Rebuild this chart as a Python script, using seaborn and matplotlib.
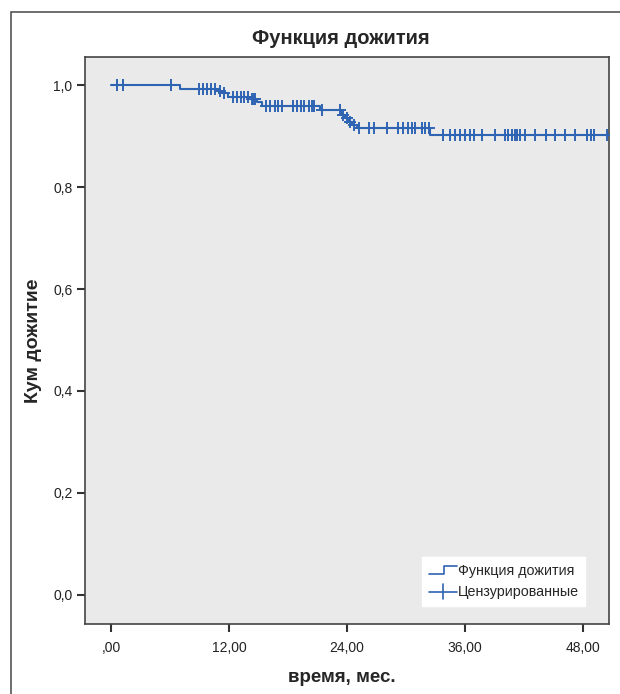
import numpy as np
import pandas as pd
import seaborn as sns
import matplotlib.pyplot as plt
from matplotlib.lines import Line2D
from matplotlib.legend_handler import HandlerBase
from matplotlib.patches import Rectangle

# данные кривой Каплана-Мейера
event_times = [7.0, 10.9, 11.25, 11.9, 14.1, 14.8, 15.4, 21.3,
               23.45, 23.8, 24.15, 24.5, 25.0, 32.45]
surv_values = [0.993, 0.988, 0.984, 0.977, 0.972, 0.966, 0.959, 0.951,
               0.941, 0.935, 0.928, 0.922, 0.915, 0.902]
censor_times = [0.58, 1.19, 6.13, 8.9, 9.4, 9.8, 10.2, 10.6, 11.1, 11.5,
                12.4, 12.8, 13.2, 13.5, 13.9, 14.3, 14.5, 14.6, 15.8, 16.2,
                16.7, 17.0, 17.4, 18.5, 18.9, 19.3, 19.6, 20.1, 20.4, 20.6,
                21.5, 23.3, 23.6, 24.0, 24.3, 24.7, 25.2, 26.2, 26.7, 28.05,
                29.2, 29.7, 30.2, 30.6, 30.9, 31.6, 31.95, 32.3, 33.8, 34.5,
                35.0, 35.5, 36.0, 36.5, 36.9, 37.7, 39.1, 40.1, 40.4, 40.8,
                41.1, 41.3, 41.6, 42.1, 43.1, 44.2, 45.2, 46.2, 47.2, 48.4,
                48.8, 49.1, 50.4]
last_time = 50.6

x_ticks = [0, 12, 24, 36, 48]
x_tick_labels = [",00", "12,00", "24,00", "36,00", "48,00"]
y_ticks = [0.0, 0.2, 0.4, 0.6, 0.8, 1.0]
y_tick_labels = ["0,0", "0,2", "0,4", "0,6", "0,8", "1,0"]

title = "Функция дожития"
x_label = "время, мес."
y_label = "Кум дожитие"
legend_labels = ["Функция дожития", "Цензурированные"]

blue = "#2f64b3"

# таблицы для seaborn
curve = pd.DataFrame({
    "time": [0.0] + event_times + [last_time],
    "surv": [1.0] + surv_values + [surv_values[-1]],
})
idx = np.searchsorted(event_times, censor_times, side="right")
censored = pd.DataFrame({
    "time": censor_times,
    "surv": np.r_[1.0, surv_values][idx],
})

sns.set_style("white")
plt.rcParams["font.family"] = ["Liberation Sans", "DejaVu Sans"]

fig = plt.figure(figsize=(6.2, 6.94), dpi=100)
ax = fig.add_axes([85 / 620, 1 - 624 / 694, 523.5 / 620, 567 / 694])
ax.set_facecolor("#eaeaea")

sns.lineplot(data=curve, x="time", y="surv", drawstyle="steps-post",
             estimator=None, color=blue, linewidth=1.5, ax=ax)
sns.scatterplot(data=censored, x="time", y="surv", marker="+", s=70,
                color=blue, linewidth=1.4, ax=ax, zorder=3)

ax.set_xlim(-2.65, 50.6)
ax.set_ylim(-0.057, 1.055)
ax.set_xticks(x_ticks)
ax.set_xticklabels(x_tick_labels)
ax.set_yticks(y_ticks)
ax.set_yticklabels(y_tick_labels)
ax.tick_params(direction="out", length=6, width=1.5, color="#333333",
               labelsize=10, labelcolor="#222222", pad=3,
               bottom=True, left=True)
ax.tick_params(axis="x", pad=6)
for s in ax.spines.values():
    s.set_color("#444444")
    s.set_linewidth(1.2)
ax.set_xlabel("")
ax.set_ylabel("")

fig.text(341 / 620, 1 - 39 / 694, title, ha="center", va="center",
         fontsize=14.5, fontweight="bold")
fig.text(342 / 620, 1 - 678 / 694, x_label, ha="center", va="center",
         fontsize=13.5, fontweight="bold")
fig.text(34 / 620, 1 - 341 / 694, y_label, ha="center", va="center",
         rotation=90, fontsize=14, fontweight="bold")

# внешняя рамка
fig.patches.append(Rectangle((11 / 620, -0.05), 1.1, 1 - 12 / 694 + 0.05,
                             transform=fig.transFigure, fill=False,
                             edgecolor="#555555", linewidth=1.2))


class StepHandler(HandlerBase):
    def create_artists(self, legend, orig_handle, xdescent, ydescent,
                       width, height, fontsize, trans):
        x0, x1 = -xdescent, -xdescent + width
        ym = height / 2 - ydescent
        xs = [x0, x0 + width * 0.55, x0 + width * 0.55, x1]
        ys = [ym - height * 0.3, ym - height * 0.3, ym + height * 0.3, ym + height * 0.3]
        ln = Line2D(xs, ys, color=blue, linewidth=1.2, transform=trans)
        return [ln]


class PlusHandler(HandlerBase):
    def create_artists(self, legend, orig_handle, xdescent, ydescent,
                       width, height, fontsize, trans):
        x0, x1 = -xdescent, -xdescent + width
        ym = height / 2 - ydescent
        xm = (x0 + x1) / 2
        h = Line2D([x0, x1], [ym, ym], color=blue, linewidth=1.2, transform=trans)
        v = Line2D([xm, xm], [ym - height * 0.6, ym + height * 0.6],
                   color=blue, linewidth=1.2, transform=trans)
        return [h, v]


h_curve = Line2D([], [], color=blue)
h_cens = Line2D([], [], color=blue, marker="+")
leg = ax.legend([h_curve, h_cens], legend_labels,
                handler_map={h_curve: StepHandler(), h_cens: PlusHandler()},
                loc="lower left", bbox_to_anchor=(0.644, 0.032),
                frameon=True, fancybox=False, fontsize=10.3,
                handlelength=2.0, handleheight=1.0, handletextpad=0.05,
                borderpad=0.45, labelspacing=0.5, borderaxespad=0)
leg.get_frame().set_facecolor("white")
leg.get_frame().set_edgecolor("white")
leg.get_frame().set_alpha(1)

fig.savefig("out.png", dpi=100)
